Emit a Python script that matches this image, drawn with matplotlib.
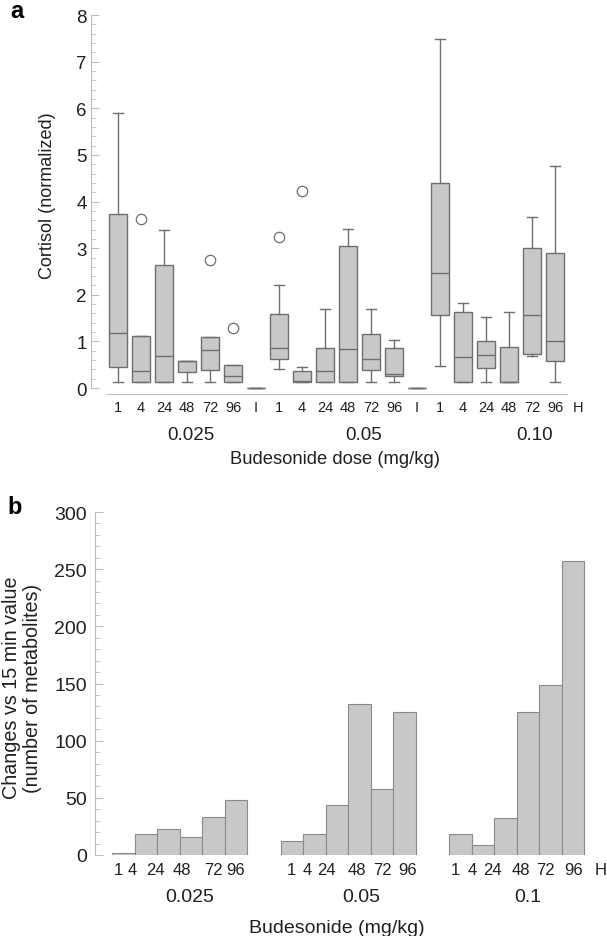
import matplotlib
matplotlib.use("Agg")
import matplotlib.pyplot as plt
import numpy as np

plt.rcParams['font.family'] = ['Liberation Sans', 'DejaVu Sans']

# panel a: cortisol box plots
horas_a = ["1", "4", "24", "48", "72", "96", "I",
           "1", "4", "24", "48", "72", "96", "I",
           "1", "4", "24", "48", "72", "96", "H"]
dosis_a = ["0.025", "0.05", "0.10"]
whis_hi = [5.91, 1.11, 3.40, 0.58, 1.09, 0.49, 0.0,
           2.21, 0.46, 1.69, 3.42, 1.70, 1.03, 0.0,
           7.48, 1.83, 1.53, 1.64, 3.68, 4.77]
q3 = [3.74, 1.11, 2.64, 0.58, 1.09, 0.49, 0.0,
      1.58, 0.36, 0.86, 3.04, 1.16, 0.85, 0.0,
      4.39, 1.63, 1.01, 0.89, 3.00, 2.89]
mediana = [1.19, 0.36, 0.69, 0.57, 0.81, 0.25, 0.0,
           0.85, 0.15, 0.36, 0.84, 0.62, 0.31, 0.0,
           2.46, 0.66, 0.70, 0.14, 1.56, 1.00]
q1 = [0.46, 0.14, 0.14, 0.35, 0.39, 0.14, 0.0,
      0.63, 0.14, 0.14, 0.14, 0.39, 0.26, 0.0,
      1.57, 0.14, 0.44, 0.14, 0.74, 0.57]
whis_lo = [0.14, 0.14, 0.14, 0.14, 0.14, 0.14, 0.0,
           0.41, 0.14, 0.14, 0.14, 0.14, 0.14, 0.0,
           0.47, 0.14, 0.14, 0.14, 0.69, 0.14]
atipicos = [[], [3.62], [], [], [2.74], [1.29], [],
            [3.24], [4.23], [], [], [], [], [],
            [], [], [], [], [], []]

# panel b: metabolite changes
horas_b = ["1", "4", "24", "48", "72", "96"]
dosis_b = ["0.025", "0.05", "0.1"]
cambios_0025 = [2, 18, 23, 16, 33, 48]
cambios_005 = [12, 18, 44, 132, 58, 125]
cambios_01 = [18, 9, 32, 125, 149, 257]

gris = "#c7c8ca"
borde = "#6f6f6f"
eje = "#bdbdbd"
texto = "#231f20"

fig = plt.figure(figsize=(6.07, 9.37), dpi=100)

# ---------- a ----------
ax = fig.add_axes([91/607, 1 - 395.1/937, 498.5/607, 383.6/937])
stats = []
for i in range(len(q3)):
    stats.append({"med": mediana[i], "q1": q1[i], "q3": q3[i],
                  "whislo": whis_lo[i], "whishi": whis_hi[i],
                  "fliers": atipicos[i]})
pos = np.arange(1, len(q3) + 1)
ax.bxp(stats, positions=pos, widths=0.82, capwidths=0.45, patch_artist=True,
       boxprops=dict(facecolor=gris, edgecolor=borde, linewidth=1.0),
       medianprops=dict(color=borde, linewidth=1.0),
       whiskerprops=dict(color=borde, linewidth=1.0),
       capprops=dict(color=borde, linewidth=1.0),
       flierprops=dict(marker="o", markerfacecolor="none", markeredgecolor=borde,
                       markersize=7.5, markeredgewidth=0.9))
ax.set_xlim(-0.174, 21.5)
ax.set_ylim(-0.13, 8.1)
ax.set_xticks(np.arange(1, len(horas_a) + 1))
ax.set_xticklabels(horas_a, fontsize=10.5, color=texto)
ax.tick_params(axis="x", length=0, pad=4)
ax.set_yticks(np.arange(0, 9, 1))
ax.set_yticks(np.arange(0, 8.01, 0.2), minor=True)
ax.tick_params(axis="y", which="major", direction="in", length=6, width=0.8,
               color=eje, labelsize=13.5, labelcolor=texto, pad=3)
ax.tick_params(axis="y", which="minor", direction="in", length=3.5, width=0.6, color=eje)
for s in ["top", "right"]:
    ax.spines[s].set_visible(False)
ax.spines["left"].set_bounds(0, 8)
ax.spines["left"].set_color(eje)
ax.spines["bottom"].set_bounds(0.52, 20.52)
ax.spines["bottom"].set_color(eje)
fig.text(48/607, 1 - 196/937, "Cortisol (normalized)", rotation=90, ha="center",
         va="center", fontsize=13, color=texto)
trans = ax.get_xaxis_transform()
for xc, d in zip([4.16, 11.7, 19.1], dosis_a):
    ax.text(xc, -0.105, d, transform=trans, ha="center", va="center",
            fontsize=13.5, color=texto)
fig.text(335/607, 1 - 460/937, "Budesonide dose (mg/kg)", ha="center", va="center",
         fontsize=13.2, color=texto)
fig.text(10/607, 1 - 12/937, "a", ha="left", va="center", fontsize=17,
         fontweight="bold", color="black")

# ---------- b ----------
bx = fig.add_axes([95/607, 1 - 856/937, 511.6/607, 343/937])
inicio = [0, 7.5, 15]
for off, vals in zip(inicio, [cambios_0025, cambios_005, cambios_01]):
    bx.bar(np.arange(len(vals)) + off, vals, width=1.0, color=gris,
           edgecolor="#8a8a8a", linewidth=0.8)
bx.set_xlim(-1.27, 21.5)
bx.set_ylim(0, 300)
tick_x = [-0.25, 0.37, 1.44, 2.6, 4.02, 5.0,
          7.49, 8.16, 9.05, 10.38, 11.54, 12.66,
          14.75, 15.5, 16.44, 17.69, 18.8, 20.05, 21.25]
bx.set_xticks(tick_x)
bx.set_xticklabels(horas_b * 3 + ["H"], fontsize=12, color=texto)
bx.tick_params(axis="x", length=0, pad=5)
bx.set_yticks(np.arange(0, 301, 50))
bx.set_yticks(np.arange(0, 301, 10), minor=True)
bx.tick_params(axis="y", which="major", direction="in", length=6, width=0.8,
               color=eje, labelsize=14, labelcolor=texto, pad=6)
bx.tick_params(axis="y", which="minor", direction="in", length=3.5, width=0.6, color=eje)
for s in ["top", "right", "bottom"]:
    bx.spines[s].set_visible(False)
bx.spines["left"].set_color(eje)
fig.text(22/607, 1 - 688/937, "Changes vs 15 min value\n(number of metabolites)",
         rotation=90, ha="center", va="center", fontsize=14.2, color=texto,
         linespacing=1.15, multialignment="center")
transb = bx.get_xaxis_transform()
for xc, d in zip([2.96, 10.6, 18.0], dosis_b):
    bx.text(xc, -0.122, d, transform=transb, ha="center", va="center",
            fontsize=14, color=texto)
fig.text(337/607, 1 - 929/937, "Budesonide (mg/kg)", ha="center", va="center",
         fontsize=14, color=texto)
fig.text(7/607, 1 - 507/937, "b", ha="left", va="center", fontsize=17,
         fontweight="bold", color="black")

fig.savefig("out.png", dpi=100)
